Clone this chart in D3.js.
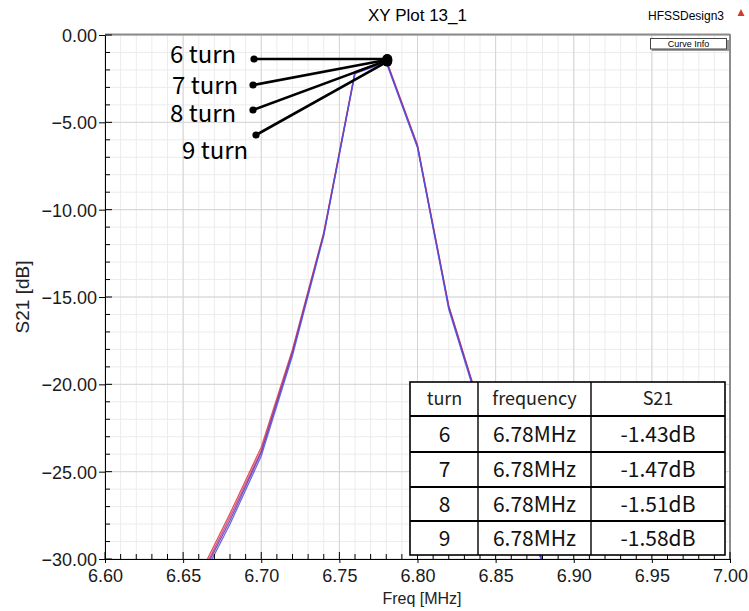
<!DOCTYPE html>
<html>
<head>
<meta charset="utf-8">
<script src="https://cdn.jsdelivr.net/npm/d3@7"></script>
<style>
  body { margin: 0; background: #fff; }
  .hfss { font-family: "Liberation Sans Narrow", "Liberation Sans", Arial, sans-serif; }
  .kr { font-family: "Noto Sans CJK KR", "Noto Sans", sans-serif; }
</style>
</head>
<body>
<div id="chart"></div>
<script>
const svgWidth = 749;
const svgHeight = 611;

// plot frame
const margin = { top: 35, right: 19, bottom: 52, left: 105 };
const width = svgWidth - margin.left - margin.right;
const height = svgHeight - margin.top - margin.bottom;

// data
const freqs = [6.66, 6.68, 6.70, 6.72, 6.74, 6.76, 6.78, 6.80, 6.82, 6.84, 6.86, 6.88, 6.90];
const s21Turn6 = [-31.0, -27.4, -23.6, -18.0, -11.3, -2.1, -1.43, -6.30, -15.50, -21.30, -25.70, -30.00, -33.4];
const s21Turn7 = [-31.2, -27.6, -23.8, -18.1, -11.4, -2.1, -1.47, -6.35, -15.55, -21.35, -25.80, -30.10, -33.5];
const s21Turn8 = [-31.3, -27.8, -23.9, -18.2, -11.4, -2.2, -1.51, -6.40, -15.60, -21.40, -25.85, -30.15, -33.6];
const s21Turn9 = [-31.5, -28.0, -24.1, -18.35, -11.5, -2.2, -1.58, -6.45, -15.70, -21.50, -25.90, -30.20, -33.7];

const turnNames = ["6 turn", "7 turn", "8 turn", "9 turn"];
const curveColors = ["#e03838", "#c03a9c", "#70388c", "#4a52f0"];

const tableHeader = ["turn", "frequency", "S21"];
const tableTurn = ["6", "7", "8", "9"];
const tableFreq = ["6.78MHz", "6.78MHz", "6.78MHz", "6.78MHz"];
const tableS21 = ["-1.43dB", "-1.47dB", "-1.51dB", "-1.58dB"];

const xTicks = [6.60, 6.65, 6.70, 6.75, 6.80, 6.85, 6.90, 6.95, 7.00];
const yTicks = [0, -5, -10, -15, -20, -25, -30];

const series = [s21Turn6, s21Turn7, s21Turn8, s21Turn9].map((vals, i) => ({
  name: turnNames[i],
  color: curveColors[i],
  points: freqs.map((f, j) => ({ f: f, v: vals[j] }))
}));

const svg = d3.select("#chart")
  .append("svg")
  .attr("width", svgWidth)
  .attr("height", svgHeight);

const chartGroup = svg.append("g")
  .attr("transform", `translate(${margin.left}, ${margin.top})`);

const x = d3.scaleLinear().domain([6.6, 7.0]).range([0, width]);
const y = d3.scaleLinear().domain([0, -30]).range([0, height]);

// grid - minor then major
const minorX = d3.range(0, 41).map(i => 6.6 + i * 0.01);
const minorY = d3.range(0, 31).map(i => -i);

chartGroup.append("g").selectAll("line")
  .data(minorX)
  .join("line")
  .attr("x1", d => x(d)).attr("x2", d => x(d))
  .attr("y1", 0).attr("y2", height)
  .attr("stroke", "#ececec");

chartGroup.append("g").selectAll("line")
  .data(minorY)
  .join("line")
  .attr("y1", d => y(d)).attr("y2", d => y(d))
  .attr("x1", 0).attr("x2", width)
  .attr("stroke", "#ececec");

chartGroup.append("g").selectAll("line")
  .data(xTicks)
  .join("line")
  .attr("x1", d => x(d)).attr("x2", d => x(d))
  .attr("y1", 0).attr("y2", height)
  .attr("stroke", "#d4d4d4");

chartGroup.append("g").selectAll("line")
  .data(yTicks)
  .join("line")
  .attr("y1", d => y(d)).attr("y2", d => y(d))
  .attr("x1", 0).attr("x2", width)
  .attr("stroke", "#d4d4d4");

// frame: grey top / right
chartGroup.append("line")
  .attr("x1", 0).attr("x2", width).attr("y1", -0.5).attr("y2", -0.5)
  .attr("stroke", "#8c8c8c").attr("stroke-width", 2);
chartGroup.append("line")
  .attr("x1", width).attr("x2", width).attr("y1", -1).attr("y2", height)
  .attr("stroke", "#8c8c8c").attr("stroke-width", 2);

// curves
chartGroup.append("clipPath").attr("id", "clip")
  .append("rect").attr("width", width).attr("height", height);

const line = d3.line().x(d => x(d.f)).y(d => y(d.v));

chartGroup.append("g")
  .attr("clip-path", "url(#clip)")
  .selectAll("path")
  .data(series)
  .join("path")
  .attr("d", d => line(d.points))
  .attr("fill", "none")
  .attr("stroke", d => d.color)
  .attr("stroke-width", 1.3)
  .attr("stroke-opacity", 0.85);

// axes
const leftAxis = d3.axisLeft(y).tickValues(yTicks).tickSizeInner(6).tickSizeOuter(0)
  .tickFormat(d3.format(".2f"));
const bottomAxis = d3.axisBottom(x).tickValues(xTicks).tickSizeInner(4).tickSizeOuter(0)
  .tickFormat(d3.format(".2f"));

const yAxisG = chartGroup.append("g").call(leftAxis);
const xAxisG = chartGroup.append("g").attr("transform", `translate(0, ${height})`).call(bottomAxis);

[yAxisG, xAxisG].forEach(g => {
  g.select(".domain").attr("stroke", "#000");
  g.selectAll("text").attr("class", "hfss").attr("font-size", 18).attr("fill", "#1a1a1a");
});
yAxisG.selectAll("text").attr("x", -8).attr("dy", "0.36em");
xAxisG.selectAll("text").attr("y", 10);

// minor ticks inward
chartGroup.append("g").selectAll("line")
  .data(minorY)
  .join("line")
  .attr("x1", 0).attr("x2", d => (d % 5 === 0 ? 7 : 5))
  .attr("y1", d => y(d)).attr("y2", d => y(d))
  .attr("stroke", "#000");
chartGroup.append("g").selectAll("line")
  .data(minorX)
  .join("line")
  .attr("y1", height).attr("y2", (d, i) => height - (i % 5 === 0 ? 7 : 5))
  .attr("x1", d => x(d)).attr("x2", d => x(d))
  .attr("stroke", "#000");

// titles
svg.append("text")
  .attr("class", "hfss")
  .attr("x", margin.left + width / 2).attr("y", 21)
  .attr("text-anchor", "middle").attr("font-size", 17)
  .text("XY Plot 13_1");

svg.append("text")
  .attr("class", "hfss")
  .attr("x", 724).attr("y", 20)
  .attr("text-anchor", "end").attr("font-size", 12)
  .text("HFSSDesign3");

svg.append("path")
  .attr("d", "M741,9 L744.5,16 L737.5,16 Z")
  .attr("fill", "#d43a2a");

svg.append("text")
  .attr("class", "hfss")
  .attr("transform", `translate(29, ${margin.top + height / 2}) rotate(-90)`)
  .attr("text-anchor", "middle").attr("font-size", 19)
  .attr("fill", "#222")
  .text("S21 [dB]");

svg.append("text")
  .attr("class", "hfss")
  .attr("x", 422).attr("y", 604)
  .attr("text-anchor", "middle").attr("font-size", 16)
  .attr("fill", "#222")
  .text("Freq [MHz]");

// Curve Info button
svg.append("rect")
  .attr("x", 652).attr("y", 40).attr("width", 77).attr("height", 11)
  .attr("fill", "#9a9a9a");
svg.append("rect")
  .attr("x", 650.5).attr("y", 38.5).attr("width", 76).attr("height", 10.5)
  .attr("fill", "#fff").attr("stroke", "#444");
svg.append("text")
  .attr("class", "hfss")
  .attr("x", 688.5).attr("y", 47)
  .attr("text-anchor", "middle").attr("font-size", 9)
  .text("Curve Info");

// annotations pointing at each curve's peak
const labelPos = [
  { tx: 170, ty: 63, dx: 254, dy: 59 },
  { tx: 172, ty: 94, dx: 253, dy: 85 },
  { tx: 170, ty: 122, dx: 253, dy: 110 },
  { tx: 182, ty: 159, dx: 256, dy: 135 }
];
const peakIdx = freqs.indexOf(6.78);
const ann = svg.append("g");
series.forEach((s, i) => {
  const p = labelPos[i];
  const px = margin.left + x(s.points[peakIdx].f) + 1;
  const py = margin.top + y(s.points[peakIdx].v) - 1;
  ann.append("line")
    .attr("x1", p.dx).attr("y1", p.dy).attr("x2", px).attr("y2", py)
    .attr("stroke", "#000").attr("stroke-width", 2.6);
  ann.append("circle").attr("cx", p.dx).attr("cy", p.dy).attr("r", 3.6);
  ann.append("circle").attr("cx", px).attr("cy", py).attr("r", 5);
  ann.append("text")
    .attr("class", "kr")
    .attr("x", p.tx).attr("y", p.ty)
    .attr("font-size", 24)
    .text(s.name);
});

// result table
const colX = [410, 478, 591, 725];
const rowY = [382, 416, 452, 487, 521, 555];
const table = svg.append("g");
table.append("rect")
  .attr("x", colX[0]).attr("y", rowY[0])
  .attr("width", colX[3] - colX[0]).attr("height", rowY[5] - rowY[0])
  .attr("fill", "#fff").attr("stroke", "#000").attr("stroke-width", 1.6);
rowY.slice(1, 5).forEach(ry => {
  table.append("line").attr("x1", colX[0]).attr("x2", colX[3])
    .attr("y1", ry).attr("y2", ry).attr("stroke", "#000").attr("stroke-width", 1.8);
});
colX.slice(1, 3).forEach(cx => {
  table.append("line").attr("x1", cx).attr("x2", cx)
    .attr("y1", rowY[0]).attr("y2", rowY[5]).attr("stroke", "#000").attr("stroke-width", 1.4);
});
const colMid = [444.5, 534.5, 658];
tableHeader.forEach((h, i) => {
  table.append("text").attr("class", "kr")
    .attr("x", colMid[i]).attr("y", (rowY[0] + rowY[1]) / 2 + 6)
    .attr("text-anchor", "middle").attr("font-size", 18).attr("fill", "#222")
    .text(h);
});
tableTurn.forEach((t, r) => {
  const cy = (rowY[r + 1] + rowY[r + 2]) / 2 + 7.5;
  [t, tableFreq[r], tableS21[r]].forEach((v, i) => {
    table.append("text").attr("class", "kr")
      .attr("x", colMid[i]).attr("y", cy)
      .attr("text-anchor", "middle").attr("font-size", 21).attr("fill", "#111")
      .text(v);
  });
});
</script>
</body>
</html>
